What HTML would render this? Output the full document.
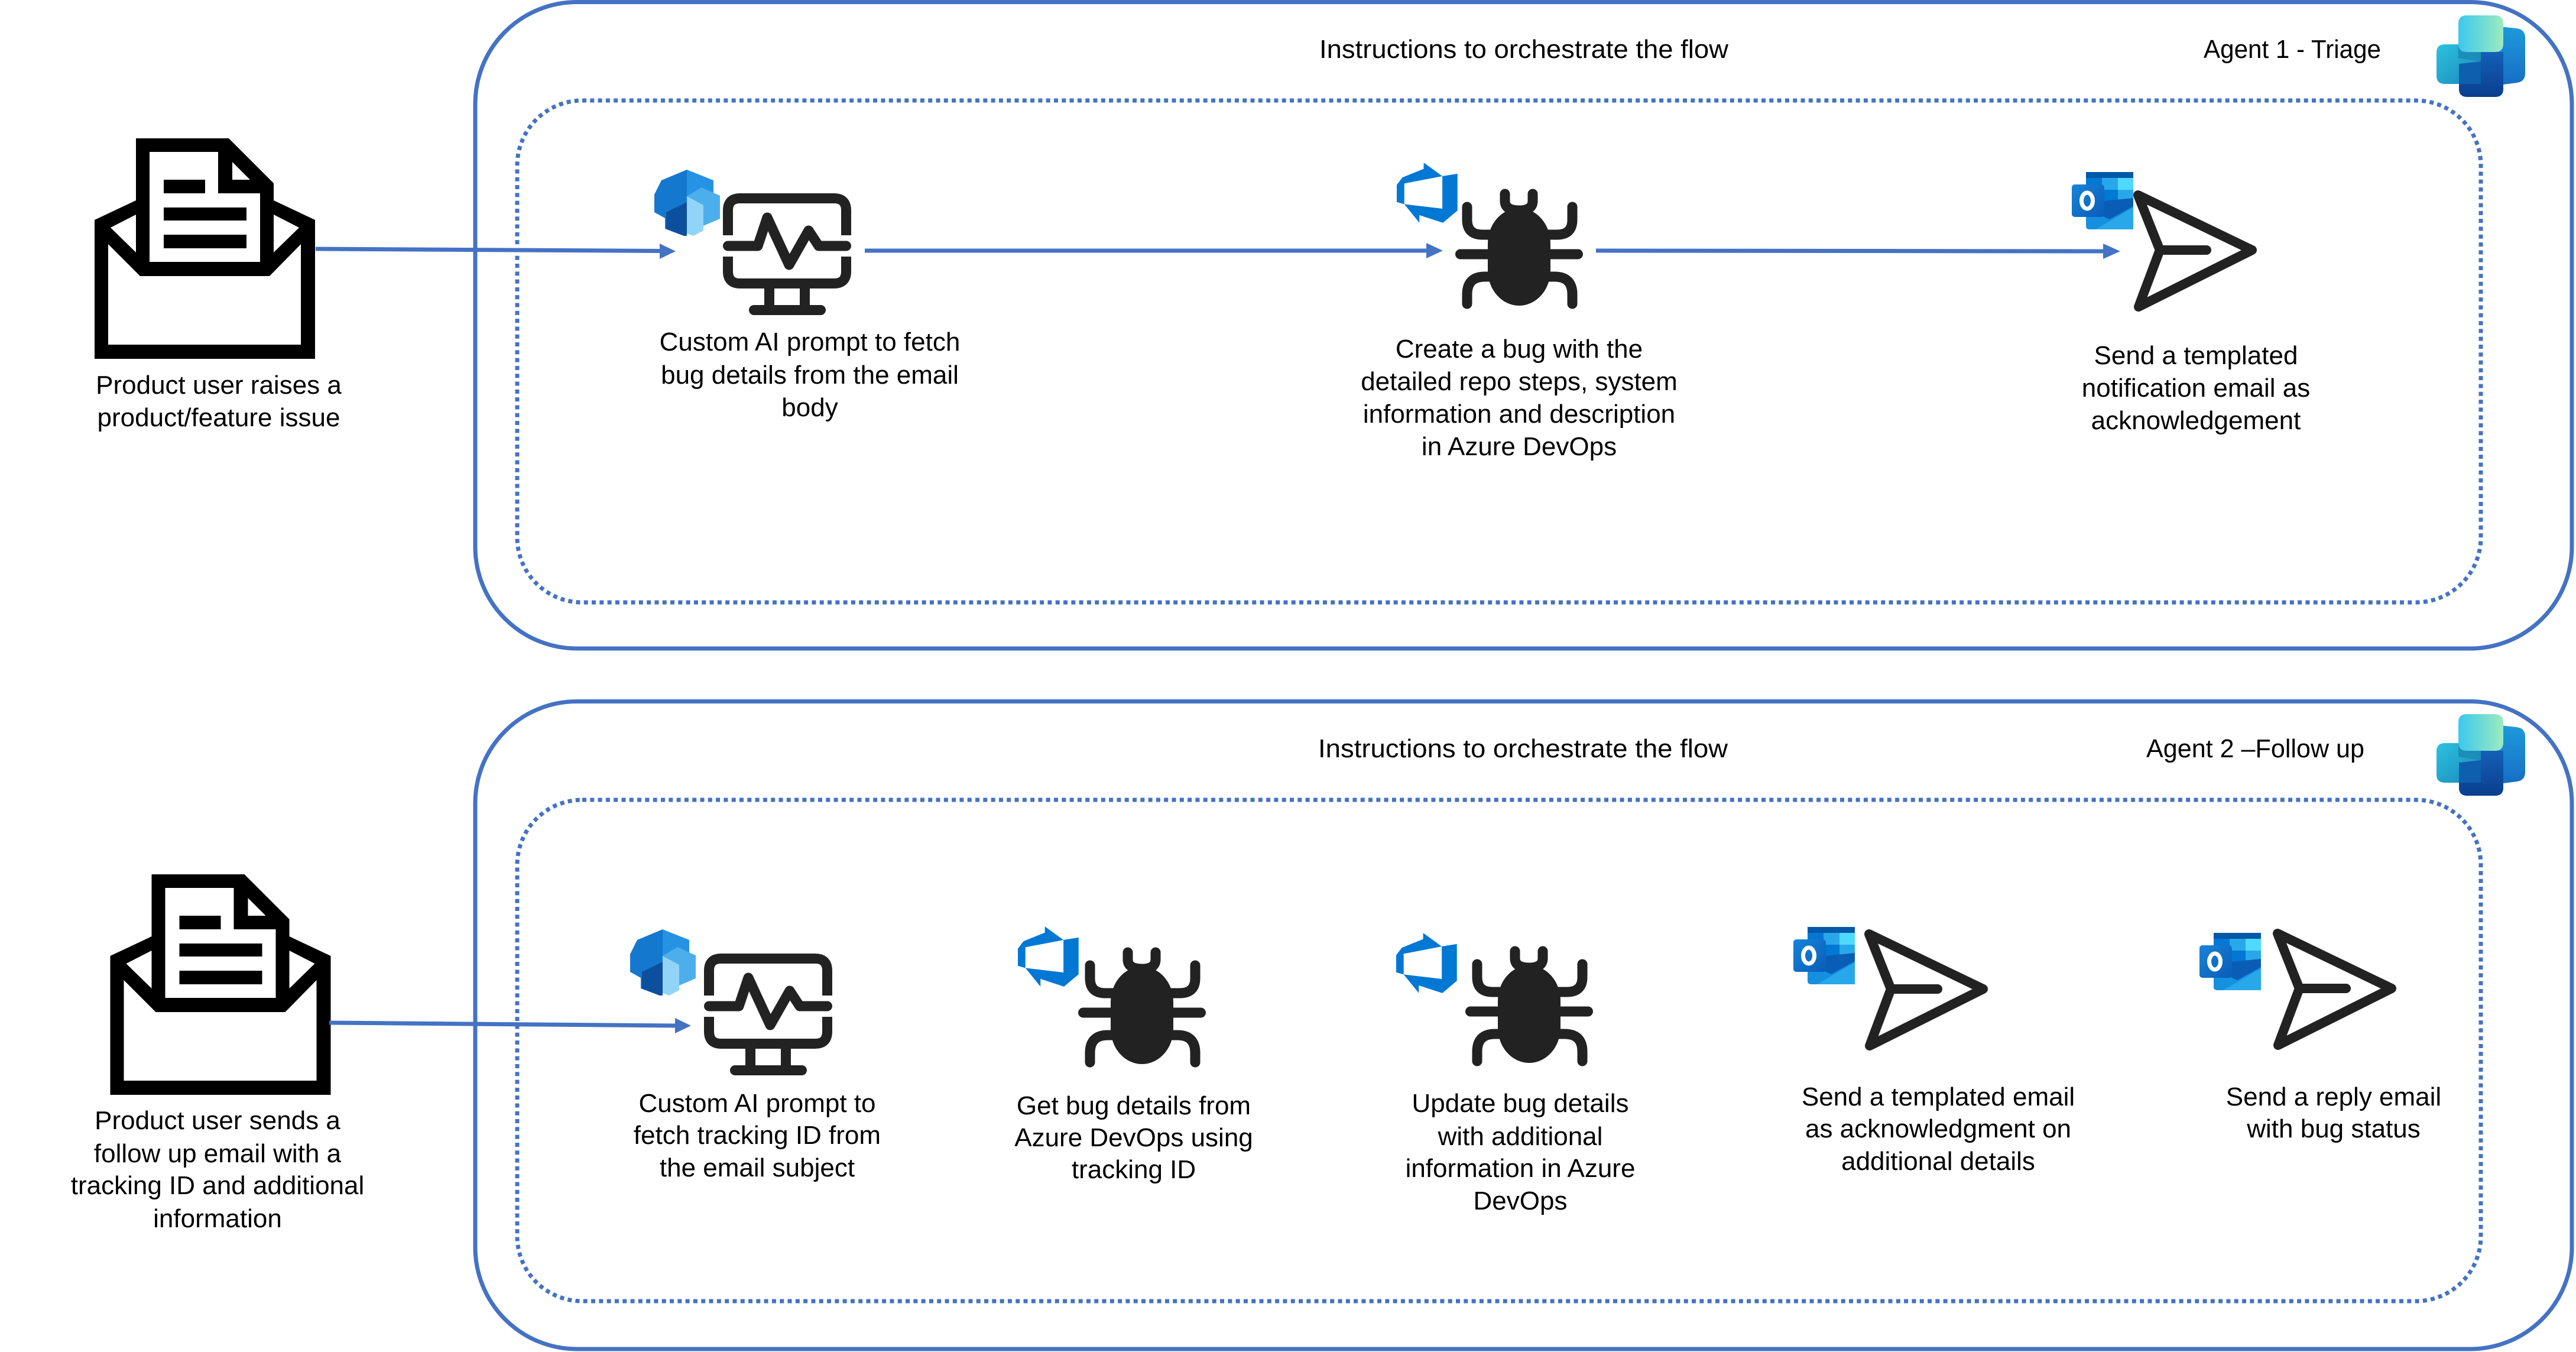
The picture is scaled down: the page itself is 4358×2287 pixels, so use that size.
<!DOCTYPE html>
<html>
<head>
<meta charset="utf-8">
<style>
  html, body { margin:0; padding:0; background:#fff; }
  svg { display:block; }
  text { font-family: "Liberation Sans", Arial, sans-serif; font-size:44px; fill:#000; }
  .c { text-anchor: middle; }
</style>
</head>
<body>
<svg width="4358" height="2287" viewBox="0 0 4358 2287" xmlns="http://www.w3.org/2000/svg">
<defs>
  <linearGradient id="cpTop" x1="0" y1="0" x2="1" y2="0">
    <stop offset="0" stop-color="#3CC8EE"/><stop offset="1" stop-color="#9CEBBE"/>
  </linearGradient>
  <linearGradient id="cpRight" x1="0" y1="0" x2="0" y2="1">
    <stop offset="0" stop-color="#1E9BDB"/><stop offset="1" stop-color="#1565C0"/>
  </linearGradient>
  <linearGradient id="cpLeft" x1="0" y1="0" x2="1" y2="1">
    <stop offset="0" stop-color="#2CC3E0"/><stop offset="1" stop-color="#1A86B8"/>
  </linearGradient>
  <linearGradient id="cpBot" x1="0" y1="0" x2="0" y2="1">
    <stop offset="0" stop-color="#1460B8"/><stop offset="1" stop-color="#0A3E8E"/>
  </linearGradient>
  <linearGradient id="olFront" x1="0" y1="0" x2="1" y2="1">
    <stop offset="0" stop-color="#1784D9"/><stop offset="1" stop-color="#0A5CB8"/>
  </linearGradient>

  <g id="envelope">
    <path fill="#000" fill-rule="evenodd" d="M160,372 L230,339 L230,234 L387,234 L463,310 L463,339 L533,372 L533,607 L160,607 Z
      M253,257 L369,257 L369,327 L440,327 L440,443 L253,443 Z
      M393,274 L393,304 L423,304 Z
      M187,385 L230,363 L230,427 Z
      M463,363 L506,385 L463,427 Z
      M183,413 L237,467 L456,467 L509,413 L509,583 L183,583 Z"/>
    <rect x="277" y="304" width="70" height="23" fill="#000"/>
    <rect x="277" y="351" width="140" height="22" fill="#000"/>
    <rect x="277" y="397" width="140" height="23" fill="#000"/>
  </g>

  <g id="monitor">
    <g fill="none" stroke="#222" stroke-width="17">
      <path d="M1231.5,398 L1231.5,356 Q1231.5,335.5 1252,335.5 L1411,335.5 Q1431.5,335.5 1431.5,356 L1431.5,398"/>
      <path d="M1231.5,434 L1231.5,459 Q1231.5,479.5 1252,479.5 L1411,479.5 Q1431.5,479.5 1431.5,459 L1431.5,434"/>
      <path d="M1231.5,416 L1282,416 L1298,368 L1335,448 L1368,390 L1385,416 L1431.5,416" stroke-linejoin="round" stroke-linecap="round"/>
    </g>
    <rect x="1293" y="486" width="17" height="32" fill="#222"/>
    <rect x="1353" y="486" width="17" height="32" fill="#222"/>
    <rect x="1267" y="516" width="130" height="17" rx="8.5" fill="#222"/>
  </g>

  <g id="bug">
    <rect x="2517" y="352" width="106" height="165" rx="53" ry="60" fill="#222"/>
    <g fill="none" stroke="#222" stroke-width="17" stroke-linecap="round">
      <path d="M2546,328 L2546,340 Q2546,356 2570,356 Q2593,356 2593,340 L2593,328"/>
      <path d="M2482,350 L2482,372 Q2482,397 2508,397 L2522,397"/>
      <path d="M2660,350 L2660,372 Q2660,397 2634,397 L2618,397"/>
      <path d="M2470.5,430 L2669.5,430"/>
      <path d="M2522,468 L2512,468 Q2482,468 2482,498 L2482,514"/>
      <path d="M2618,468 L2630,468 Q2660,468 2660,498 L2660,514"/>
    </g>
  </g>

  <g id="ado">
    <path fill="#0078D4" transform="scale(4.28,4.25)" d="M0 8.877L2.247 5.91l8.405-3.416V.022l7.37 5.393L2.966 8.338v8.225L0 15.707zm24-4.45v14.651l-5.753 4.9-9.303-3.057v3.056l-5.978-7.416 15.057 1.798V5.415z"/>
  </g>

  <g id="send">
    <path d="M3617,330 L3810,423 L3618,519 L3654,423 Z" fill="none" stroke="#222" stroke-width="16" stroke-linejoin="round"/>
    <path d="M3654,423 L3733,423" stroke="#222" stroke-width="16" stroke-linecap="round"/>
  </g>

  <g id="outlook">
    <rect x="24" y="0" width="80" height="97" rx="5" fill="#1490DF"/>
    <rect x="24" y="0" width="80" height="10" fill="#0358A7"/>
    <rect x="24" y="10" width="27" height="20" fill="#0078D4"/>
    <rect x="51" y="10" width="27" height="20" fill="#28A8EA"/>
    <rect x="78" y="10" width="26" height="20" fill="#50D9FF"/>
    <rect x="24" y="30" width="27" height="22" fill="#0364B8"/>
    <rect x="51" y="30" width="27" height="22" fill="#0078D4"/>
    <rect x="78" y="30" width="26" height="22" fill="#28A8EA"/>
    <polygon points="24,52 104,44 104,58 64,80 24,62" fill="#0A5DB5"/>
    <polygon points="40,97 104,97 104,60" fill="#28A8EA"/>
    <rect x="0" y="21" width="55" height="55" rx="5" fill="url(#olFront)"/>
    <ellipse cx="26" cy="48.5" rx="9.5" ry="13.5" fill="none" stroke="#fff" stroke-width="7"/>
  </g>

  <g id="hex">
    <polygon points="55,0 12,18 0,42 0,72 18,82 18,100 50,112 55,112" fill="#1478CE"/>
    <polygon points="55,0 100,18 100,40 55,55" fill="#2592E4"/>
    <polygon points="20,72 55,55 55,112 50,112 20,100" fill="#0C4F9E"/>
    <polygon points="55,45 80,30 111,44 111,83 83,95 55,60" fill="#4DAEEC"/>
    <polygon points="55,45 83,60 83,103 66,112 55,108" fill="#92D4F7"/>
  </g>

  <g id="copilot">
    <path d="M89,17 L136,22 Q150,24 150,38 L150,98 Q150,112 136,114 L113,117 L113,124 Q113,138 99,138 L52,138 Q38,138 38,124 L38,62 Z" fill="url(#cpRight)"/>
    <path d="M38,62 L113,62 L113,124 Q113,138 99,138 L52,138 Q38,138 38,124 Z" fill="url(#cpBot)"/>
    <path d="M14,49 L60,49 Q75,49 75,62 L75,102 Q75,116 61,116 L14,116 Q0,116 0,102 L0,63 Q0,49 14,49 Z" fill="url(#cpLeft)"/>
    <path d="M38,82 L75,78 L75,116 L38,116 Z" fill="#0E5FAE"/>
    <path d="M51,0 L99,0 Q113,0 113,14 L113,48 Q113,62 99,62 L37,62 L37,14 Q37,0 51,0 Z" fill="url(#cpTop)"/>
    <path d="M37,48 Q37,62 51,62 L75,62 L75,78 L37,72 Z" fill="#1B8DB8"/>
  </g>
</defs>

<rect x="0" y="0" width="4358" height="2287" fill="#fff"/>

<!-- ===== Agent 1 frame ===== -->
<rect x="804" y="3.5" width="3547" height="1093.5" rx="172" ry="172" fill="none" stroke="#4472C4" stroke-width="7"/>
<rect x="875" y="170" width="3322" height="849" rx="110" ry="110" fill="none" stroke="#4472C4" stroke-width="7" stroke-dasharray="7 6.3"/>

<text x="2232" y="98" textLength="692" lengthAdjust="spacingAndGlyphs">Instructions to orchestrate the flow</text>
<text x="3728" y="98" textLength="300" lengthAdjust="spacingAndGlyphs">Agent 1 - Triage</text>
<use href="#copilot" transform="translate(4122,26)"/>

<use href="#envelope"/>
<text class="c" x="370" y="666">Product user raises a</text>
<text class="c" x="370" y="721">product/feature issue</text>

<!-- arrows row 1 -->
<g stroke="#4472C4" stroke-width="7" fill="none">
  <path d="M534,421 L1118,424.5"/>
  <path d="M1463,424 L2415,424"/>
  <path d="M2700,424 L3560,425"/>
</g>
<g fill="#4472C4">
  <polygon points="1143,425 1116,412 1116,438"/>
  <polygon points="2441,424 2413,411 2413,437"/>
  <polygon points="3587,425 3558,412 3558,438"/>
</g>

<use href="#hex" transform="translate(1107,287)"/>
<use href="#monitor"/>
<text class="c" x="1370" y="593">Custom AI prompt to fetch</text>
<text class="c" x="1370" y="649">bug details from the email</text>
<text class="c" x="1370" y="704">body</text>

<use href="#ado" transform="translate(2363,275)"/>
<use href="#bug"/>
<text class="c" x="2570" y="605">Create a bug with the</text>
<text class="c" x="2570" y="660">detailed repo steps, system</text>
<text class="c" x="2570" y="715">information and description</text>
<text class="c" x="2570" y="770">in Azure DevOps</text>

<use href="#outlook" transform="translate(3505,291)"/>
<use href="#send"/>
<text class="c" x="3715" y="616">Send a templated</text>
<text class="c" x="3715" y="671">notification email as</text>
<text class="c" x="3715" y="726">acknowledgement</text>

<!-- ===== Agent 2 frame ===== -->
<rect x="804" y="1186.5" width="3547" height="1095.5" rx="172" ry="172" fill="none" stroke="#4472C4" stroke-width="7"/>
<rect x="875" y="1353" width="3322" height="848" rx="110" ry="110" fill="none" stroke="#4472C4" stroke-width="7" stroke-dasharray="7 6.3"/>

<text x="2230" y="1281" textLength="693" lengthAdjust="spacingAndGlyphs">Instructions to orchestrate the flow</text>
<text x="3631" y="1281" textLength="369" lengthAdjust="spacingAndGlyphs">Agent 2 –Follow up</text>
<use href="#copilot" transform="translate(4122,1208)"/>

<use href="#envelope" transform="translate(26.5,1245)"/>
<text class="c" x="368" y="1910">Product user sends a</text>
<text class="c" x="368" y="1966">follow up email with a</text>
<text class="c" x="368" y="2020">tracking ID and additional</text>
<text class="c" x="368" y="2076">information</text>

<path d="M557,1730 L1144,1735" stroke="#4472C4" stroke-width="7" fill="none"/>
<polygon points="1169,1735 1142,1722 1142,1748" fill="#4472C4"/>

<use href="#hex" transform="translate(1066,1572)"/>
<use href="#monitor" transform="translate(-32,1286)"/>
<text class="c" x="1281" y="1881">Custom AI prompt to</text>
<text class="c" x="1281" y="1935">fetch tracking ID from</text>
<text class="c" x="1281" y="1990">the email subject</text>

<use href="#ado" transform="translate(1722,1567)"/>
<use href="#bug" transform="translate(-638,1283)"/>
<text class="c" x="1918" y="1885">Get bug details from</text>
<text class="c" x="1918" y="1939">Azure DevOps using</text>
<text class="c" x="1918" y="1993">tracking ID</text>

<use href="#ado" transform="translate(2362,1578)"/>
<use href="#bug" transform="translate(17,1281)"/>
<text class="c" x="2572" y="1881">Update bug details</text>
<text class="c" x="2572" y="1937">with additional</text>
<text class="c" x="2572" y="1991">information in Azure</text>
<text class="c" x="2572" y="2046">DevOps</text>

<use href="#outlook" transform="translate(3034,1568)"/>
<use href="#send" transform="translate(-455,1250)"/>
<text class="c" x="3279" y="1870">Send a templated email</text>
<text class="c" x="3279" y="1924">as acknowledgment on</text>
<text class="c" x="3279" y="1979">additional details</text>

<use href="#outlook" transform="translate(3721,1578)"/>
<use href="#send" transform="translate(236,1249)"/>
<text class="c" x="3948" y="1870">Send a reply email</text>
<text class="c" x="3948" y="1924">with bug status</text>
</svg>
</body>
</html>
